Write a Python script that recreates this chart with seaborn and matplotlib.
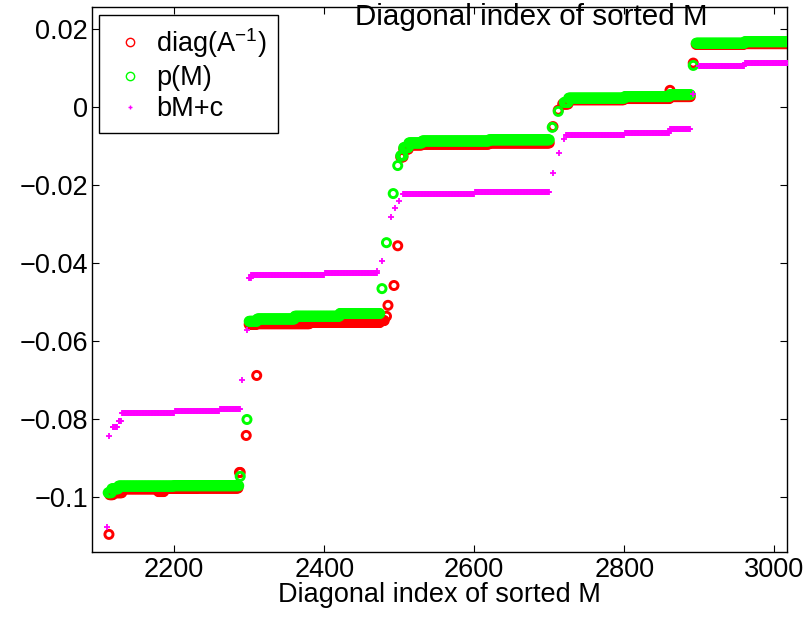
import numpy as np
import pandas as pd
import matplotlib
matplotlib.use("Agg")
import matplotlib.pyplot as plt
from matplotlib.lines import Line2D
from matplotlib.ticker import FixedLocator, FuncFormatter
import seaborn as sns

# Each series is stored as runs of consecutive diagonal indices:
# (first index, last index, value) -- every index in a run shares the value.
diag_runs_start = [2113, 2114, 2119, 2131, 2179, 2187, 2231, 2287, 2296, 2300, 2310, 2311, 2381, 2475,
                   2483, 2485, 2493, 2498, 2502, 2506, 2513, 2531, 2620, 2705, 2712, 2718, 2726, 2800,
                   2861, 2862, 2892, 2896, 2960]
diag_runs_end = [2113, 2118, 2130, 2178, 2186, 2230, 2285, 2288, 2296, 2309, 2310, 2380, 2474, 2480,
                 2483, 2485, 2493, 2498, 2505, 2512, 2530, 2619, 2700, 2705, 2712, 2725, 2799, 2860,
                 2861, 2888, 2892, 2959, 3017]
diag_runs_value = [-0.1097, -0.0995, -0.0990, -0.0980, -0.0987, -0.0979, -0.0978, -0.0938, -0.0843,
                   -0.0558, -0.0689, -0.0556, -0.0553, -0.0548, -0.0537, -0.0509, -0.0458, -0.0356,
                   -0.0128, -0.0108, -0.0097, -0.0095, -0.0092, -0.0050, -0.0008, 0.0008, 0.0019,
                   0.0022, 0.0043, 0.0027, 0.0113, 0.0161, 0.0163]

pm_runs_start = [2112, 2117, 2126, 2200, 2288, 2297, 2300, 2311, 2361, 2421, 2477, 2483, 2492, 2498,
                 2502, 2506, 2513, 2531, 2620, 2704, 2712, 2720, 2726, 2801, 2861, 2892, 2896, 2961]
pm_runs_end = [2116, 2125, 2199, 2286, 2288, 2297, 2310, 2360, 2420, 2474, 2477, 2483, 2492, 2498,
               2505, 2512, 2530, 2619, 2700, 2704, 2712, 2725, 2800, 2860, 2888, 2892, 2960, 3017]
pm_runs_value = [-0.0990, -0.0980, -0.0973, -0.0972, -0.0948, -0.0802, -0.0550, -0.0544, -0.0537,
                 -0.0530, -0.0466, -0.0348, -0.0222, -0.0150, -0.0125, -0.0104, -0.0092, -0.0087,
                 -0.0084, -0.0052, -0.0011, 0.0012, 0.0023, 0.0027, 0.0032, 0.0107, 0.0164, 0.0168]

lin_runs_start = [2111, 2113, 2118, 2126, 2131, 2201, 2261, 2291, 2297, 2300, 2303, 2401, 2471, 2477,
                  2489, 2494, 2500, 2505, 2601, 2705, 2713, 2720, 2723, 2801, 2861, 2892, 2900, 2961]
lin_runs_end = [2111, 2113, 2124, 2129, 2200, 2260, 2288, 2291, 2297, 2302, 2400, 2470, 2471, 2477,
                2489, 2494, 2500, 2600, 2700, 2705, 2713, 2720, 2800, 2860, 2888, 2892, 2960, 3017]
lin_runs_value = [-0.1078, -0.0845, -0.0822, -0.0805, -0.0786, -0.0780, -0.0774, -0.0700, -0.0571,
                  -0.0440, -0.0432, -0.0426, -0.0420, -0.0396, -0.0283, -0.0258, -0.0240, -0.0223,
                  -0.0219, -0.0168, -0.0117, -0.0081, -0.0072, -0.0066, -0.0057, 0.0033, 0.0106,
                  0.0112]

x_ticks = [2200, 2400, 2600, 2800, 3000]
y_ticks = [-0.1, -0.08, -0.06, -0.04, -0.02, 0, 0.02]

labels = ["diag(A$^{-1}$)", "p(M)", "bM+c"]
title_text = "Diagonal index of sorted M"
xlabel_text = "Diagonal index of sorted M"


def expand(starts, ends, values):
    idx = np.concatenate([np.arange(s, e + 1) for s, e in zip(starts, ends)])
    val = np.concatenate([np.full(e - s + 1, v) for s, e, v in zip(starts, ends, values)])
    return pd.DataFrame({"index": idx, "value": val})


diag_df = expand(diag_runs_start, diag_runs_end, diag_runs_value)
pm_df = expand(pm_runs_start, pm_runs_end, pm_runs_value)
lin_df = expand(lin_runs_start, lin_runs_end, lin_runs_value)

sns.set_theme(style="ticks")
plt.rcParams["font.family"] = ["Liberation Sans", "DejaVu Sans"]
plt.rcParams["mathtext.default"] = "regular"
plt.rcParams["axes.unicode_minus"] = True
plt.rcParams["text.color"] = "black"
plt.rcParams["axes.labelcolor"] = "black"
plt.rcParams["xtick.color"] = "black"
plt.rcParams["ytick.color"] = "black"

FS = 19.5
RED, GREEN, MAGENTA = "#ff0000", "#00ff00", "#ff00ff"

fig = plt.figure(figsize=(8.12, 6.18), dpi=100)
ax = fig.add_axes([91.7 / 812, 1 - 552.3 / 618, (787 - 91.7) / 812, (552.3 - 7) / 618])

sns.scatterplot(data=diag_df, x="index", y="value", ax=ax, marker="o", s=34,
                facecolor="none", edgecolor=RED, linewidth=2.1, zorder=2, legend=False)
sns.scatterplot(data=pm_df, x="index", y="value", ax=ax, marker="o", s=34,
                facecolor="none", edgecolor=GREEN, linewidth=2.1, zorder=3, legend=False)
sns.scatterplot(data=lin_df, x="index", y="value", ax=ax, marker="+", s=13,
                color=MAGENTA, linewidth=1.3, zorder=4, legend=False)

ax.set_xlim(2090, 3017)
ax.set_ylim(-0.1143, 0.0257)
ax.xaxis.set_major_locator(FixedLocator(x_ticks))
ax.yaxis.set_major_locator(FixedLocator(y_ticks))
ax.yaxis.set_major_formatter(FuncFormatter(lambda v, p: ("%g" % round(v, 4)).replace("-", "\u2212")))
ax.xaxis.set_major_formatter(FuncFormatter(lambda v, p: "%d" % v))
ax.tick_params(direction="in", length=5, width=0.8, colors="black", labelcolor="black",
               labelsize=FS, top=True, right=True, pad=3.5)
ax.tick_params(axis="y", pad=2.5)
for sp in ax.spines.values():
    sp.set_linewidth(1.0)
    sp.set_color("black")
    sp.set_visible(True)

ax.set_xlabel(xlabel_text, fontsize=FS, labelpad=-1, color="black")
ax.set_ylabel("")

handles = [
    Line2D([], [], linestyle="none", marker="o", markersize=6, markerfacecolor="none",
           markeredgecolor=RED, markeredgewidth=1.0),
    Line2D([], [], linestyle="none", marker="o", markersize=6, markerfacecolor="none",
           markeredgecolor=GREEN, markeredgewidth=1.0),
    Line2D([], [], linestyle="none", marker="+", markersize=3.5, markeredgecolor=MAGENTA,
           markeredgewidth=1.0),
]
leg = ax.legend(handles, labels, loc="upper left", bbox_to_anchor=((99 - 91.7) / 695.3, 1 - (15 - 7) / 545.3),
                borderaxespad=0, fontsize=FS, frameon=True, fancybox=False, framealpha=1,
                edgecolor="black", borderpad=0.4, handlelength=1.5, handletextpad=0.22,
                labelspacing=0.2, numpoints=1)
leg.get_frame().set_linewidth(1.0)
leg.set_zorder(10)
for t in leg.get_texts():
    t.set_color("black")

fig.text(355 / 812, 1 - 25 / 618, title_text, fontsize=21.3, ha="left", va="baseline",
         color="black", zorder=20)

fig.savefig("out.png", dpi=100, facecolor="white")
